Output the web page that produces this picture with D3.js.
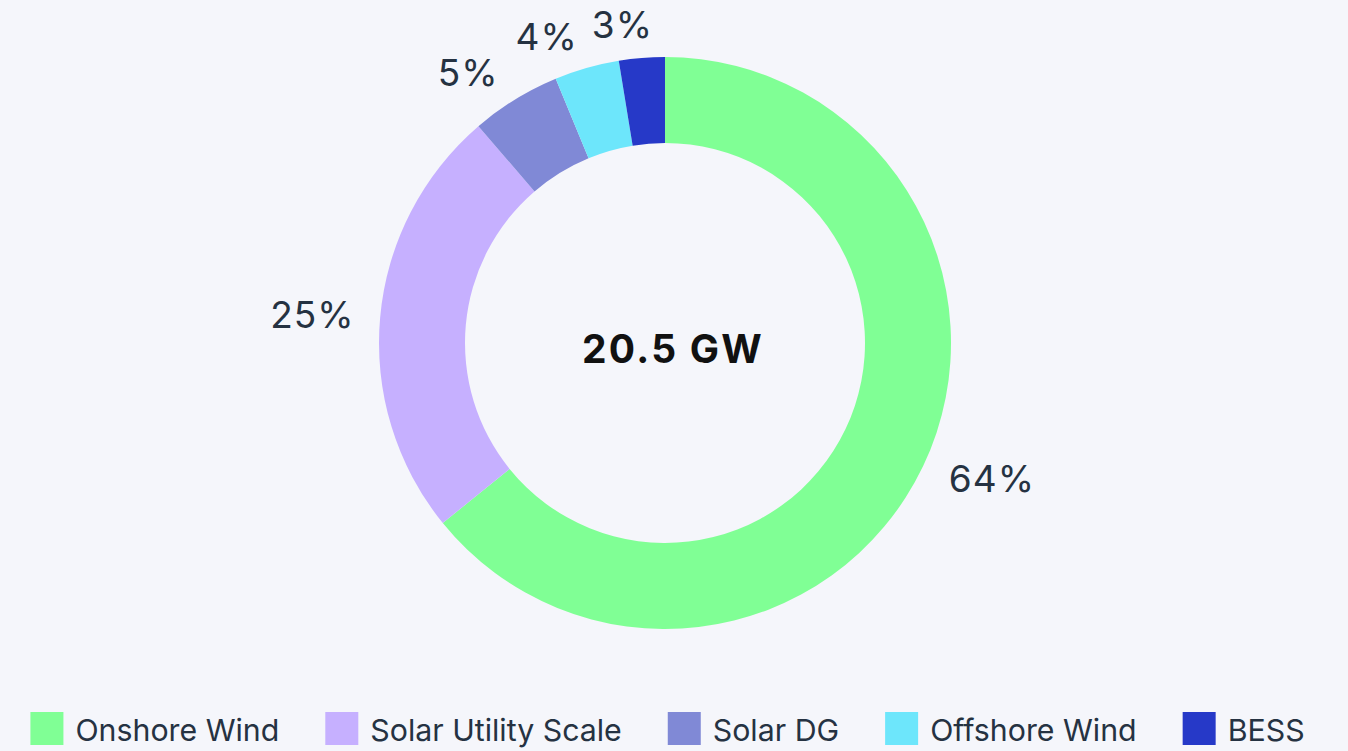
<!DOCTYPE html>
<html>
<head>
<meta charset="utf-8">
<script src="https://cdn.jsdelivr.net/npm/d3@7"></script>
<style>
  html, body { margin: 0; padding: 0; background: #f5f6fb; }
  svg { display: block; }
</style>
</head>
<body>
<svg id="chart" width="1348" height="751"></svg>
<script>
const categories = ["Onshore Wind", "Solar Utility Scale", "Solar DG", "Offshore Wind", "BESS"];
const values = [13.16, 5.03, 1.04, 0.75, 0.53]; // GW
const colors = ["#80ff95", "#c6b0ff", "#8089d6", "#6de6fb", "#2639c8"];
const centerLabel = "20.5 GW";

const W = 1348, H = 751;
const cx = 665, cy = 343, R = 286, r = 200, labelR = 311, labelRv = 8, minGap = 14;
const svg = d3.select("#chart");
svg.append("rect").attr("width", W).attr("height", H).attr("fill", "#f5f6fb");

const data = categories.map((c, i) => ({ name: c, value: values[i], color: colors[i] }));
const total = d3.sum(values);

const pie = d3.pie().value(d => d.value).sort(null);
const arc = d3.arc().innerRadius(r).outerRadius(R);
const arcs = pie(data);

const g = svg.append("g").attr("transform", `translate(${cx},${cy})`);
g.selectAll("path.slice").data(arcs).join("path")
  .attr("class", "slice")
  .attr("d", arc)
  .attr("fill", d => d.data.color);

const fmt = d => Math.round(d.data.value / total * 100) + "%";
const labels = g.selectAll("text.pct").data(arcs).join("text")
  .attr("class", "pct")
  .each(function(d) {
    const a = (d.startAngle + d.endAngle) / 2;
    const dist = labelR + labelRv * Math.abs(Math.cos(a));
    const x = Math.sin(a) * dist, y = -Math.cos(a) * dist;
    d3.select(this)
      .attr("x", x).attr("y", y)
      .attr("text-anchor", x >= 0 ? "start" : "end");
  })
  .attr("dy", "0.36em")
  .attr("font-family", "Inter, 'Noto Sans', sans-serif")
  .attr("font-size", 37)
  .attr("letter-spacing", 1)
  .attr("fill", "#253242")
  .text(fmt);

// simple collision nudge: push a label right if it crowds its left neighbour
const nodes = labels.nodes();
for (let i = 1; i < nodes.length; i++) {
  const prev = nodes[i - 1].getBBox(), cur = nodes[i].getBBox();
  const vOverlap = cur.y < prev.y + prev.height && prev.y < cur.y + cur.height;
  if (vOverlap && cur.x > prev.x && cur.x - (prev.x + prev.width) < minGap) {
    const shift = minGap - (cur.x - (prev.x + prev.width));
    const t = d3.select(nodes[i]);
    t.attr("x", +t.attr("x") + shift);
  }
}

g.append("text")
  .attr("x", 8).attr("y", 6)
  .attr("text-anchor", "middle")
  .attr("dy", "0.36em")
  .attr("font-family", "Inter, 'Noto Sans', sans-serif")
  .attr("font-weight", 700)
  .attr("font-size", 39)
  .attr("letter-spacing", 2.2)
  .attr("fill", "#111111")
  .text(centerLabel);

// Legend
const legend = svg.append("g").attr("class", "legend");
const items = legend.selectAll("g.item").data(data).join("g").attr("class", "item");
items.append("rect").attr("width", 33).attr("height", 33).attr("fill", d => d.color);
items.append("text")
  .attr("x", 45).attr("y", 18)
  .attr("dominant-baseline", "central")
  .attr("font-family", "Inter, 'Noto Sans', sans-serif")
  .attr("font-size", 30.3)
  .attr("fill", "#253242")
  .text(d => d.name);
let xPos = 0;
items.each(function() {
  const w = this.getBBox().width;
  d3.select(this).attr("transform", `translate(${xPos},712)`);
  xPos += w + 46;
});
const legW = xPos - 46;
legend.attr("transform", `translate(${(30 + 1305) / 2 - legW / 2},0)`);
</script>
</body>
</html>
